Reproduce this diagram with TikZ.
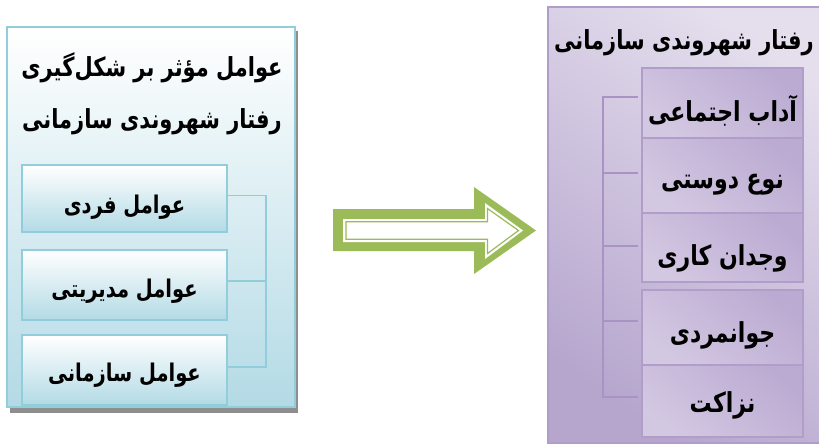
\documentclass[tikz,border=0pt]{standalone}
\usepackage{fontspec}
\usepackage{graphicx}
\newfontfamily\arabicfont[Script=Arabic]{DejaVu Sans}
\TeXXeTstate=1
\newcommand\artxt[2]{\raisebox{-#1}[\height][\depth]{\scalebox{1}[1.25]{#2}}}
\definecolor{lblue}{HTML}{92CDDC}
\definecolor{lbluebot}{HTML}{B3DAE5}
\definecolor{pborder}{HTML}{B09DCA}
\definecolor{pbrk}{HTML}{A893C4}
\definecolor{pdark}{HTML}{BBABD2}
\definecolor{plight}{HTML}{EDE9F4}
\definecolor{pmid}{HTML}{D3C8E2}
\definecolor{ptop}{HTML}{E4DEED}
\definecolor{pbot}{HTML}{B6A6CE}
\definecolor{agreen}{HTML}{9BBB59}
\definecolor{shadowgray}{HTML}{8E8E8E}
\tikzset{
  ar/.style={font=\arabicfont\bfseries\fontsize{21}{24}\selectfont, text=black},
  arbox/.style={font=\arabicfont\bfseries\fontsize{19.5}{22}\selectfont, text=black},
  arboxr/.style={font=\arabicfont\bfseries\fontsize{22}{25}\selectfont, text=black},
  lbox/.style={draw=lblue, line width=1.8pt, top color=white, bottom color=lbluebot, minimum width=205pt, inner sep=0pt, arbox},
  rbox/.style={draw=pborder, line width=1.8pt, shading=axis, top color=pdark, middle color=plight, bottom color=pmid, shading angle=-40, minimum width=161pt, inner sep=0pt, arboxr},
  lbrk/.style={draw=lblue, line width=1.8pt},
  rbrk/.style={draw=pbrk, line width=2pt},
}
\begin{document}
\begin{tikzpicture}[x=1pt,y=-1pt]
\useasboundingbox (0,0) rectangle (819,447);
% left panel
\fill[shadowgray] (10,31) rectangle (298,413);
\draw[lblue, line width=2pt, top color=white, bottom color=lbluebot] (7,27) rectangle (295,407);
\node[ar] (lt1) at (152,67) {\artxt{1pt}{\beginR عوامل مؤثر بر شکل^^^^200cگیری\endR}};
\node[ar] (lt2) at (152,120) {\artxt{2pt}{\beginR رفتار شهروندی سازمانی\endR}};
\node[lbox, minimum height=67pt] (b1) at (124.5,198.5) {\artxt{9pt}{\beginR عوامل فردی\endR}};
\node[lbox, minimum height=70pt] (b2) at (124.5,285) {\artxt{6pt}{\beginR عوامل مدیریتی\endR}};
\node[lbox, minimum height=70pt] (b3) at (124.5,370) {\artxt{5pt}{\beginR عوامل سازمانی\endR}};
\coordinate (lc1) at ([shift={(38pt,3pt)}]b1.east);
\coordinate (lc3) at ([shift={(38pt,3pt)}]b3.east);
\draw[lbrk] ([yshift=3pt]b1.east) -- (lc1) -- (lc3) -- ([yshift=3pt]b3.east);
\draw[lbrk] ([yshift=4pt]b2.east) -- ([shift={(38pt,4pt)}]b2.east);
% arrow
\fill[agreen] (333,209) -- (474,209) -- (474,187) -- (536,230.5) -- (474,274) -- (474,251) -- (333,251) -- cycle;
\fill[white] (343,219) -- (485,219) -- (485,203) -- (523,230.5) -- (485,259) -- (485,242) -- (343,242) -- cycle;
\draw[agreen, line width=1.2pt, fill=white] (346,221.8) -- (487.5,221.8) -- (487.5,208.5) -- (518.5,230.5) -- (487.5,253.5) -- (487.5,239.2) -- (346,239.2) -- cycle;
% right panel
\draw[pborder, line width=1.8pt, shading=axis, top color=ptop, bottom color=pbot, shading angle=-35] (548,7) rectangle (830,443);
\node[ar] (rt) at (684,41) {\artxt{2pt}{\beginR رفتار شهروندی سازمانی\endR}};
\node[rbox, minimum height=70pt] (r1) at (722.5,103) {\artxt{8pt}{\beginR آداب اجتماعی\endR}};
\node[rbox, minimum height=75pt] (r2) at (722.5,175.5) {\artxt{9pt}{\beginR نوع دوستی\endR}};
\node[rbox, minimum height=69pt] (r3) at (722.5,247.5) {\artxt{11pt}{\beginR وجدان کاری\endR}};
\node[rbox, minimum height=75pt] (r4) at (722.5,327.5) {\artxt{8pt}{\beginR جوانمردی\endR}};
\node[rbox, minimum height=72pt] (r5) at (722.5,401) {\artxt{4pt}{\beginR نزاکت\endR}};
\coordinate (rc1) at ([shift={(-38pt,6pt)}]r1.west);
\coordinate (rc5) at ([shift={(-38pt,4pt)}]r5.west);
\draw[rbrk] ([shift={(-3pt,6pt)}]r1.west) -- (rc1) -- (rc5) -- ([shift={(-3pt,4pt)}]r5.west);
\draw[rbrk] ([shift={(-3pt,3pt)}]r2.west) -- ([shift={(-38pt,3pt)}]r2.west);
\draw[rbrk] ([shift={(-3pt,2pt)}]r3.west) -- ([shift={(-38pt,2pt)}]r3.west);
\draw[rbrk] ([shift={(-3pt,7pt)}]r4.west) -- ([shift={(-38pt,7pt)}]r4.west);
\end{tikzpicture}
\end{document}
